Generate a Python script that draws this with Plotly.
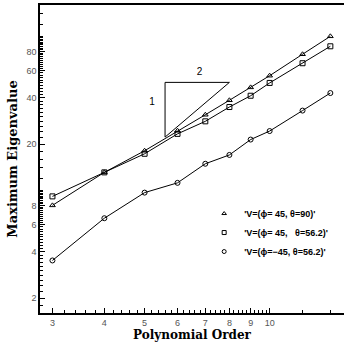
import numpy as np
import plotly.graph_objects as go

# Polynomial order and maximum eigenvalue for each viewing direction
order = [3, 4, 5, 6, 7, 8, 9, 10, 12, 14]
eig_45_90 = [8.0, 13.1, 18.1, 24.4, 31.0, 38.5, 46.7, 55.6, 76.6, 100.2]
eig_45_562 = [9.15, 13.1, 17.3, 23.3, 28.1, 34.8, 41.2, 49.9, 67.0, 86.3]
eig_m45_562 = [3.51, 6.6, 9.68, 11.2, 14.9, 17.0, 21.4, 24.3, 33.0, 42.9]

NB = "\u00a0"
names = ["'V=(\u03d5=" + NB + "45," + NB + "\u03b8=90)'",
         "'V=(\u03d5=" + NB + "45," + NB * 3 + "\u03b8=56.2)'",
         "'V=(\u03d5=\u221245," + NB + "\u03b8=56.2)'"]
symbols = ["triangle-up-open", "square-open", "circle-open"]

# slope guide triangle (rise 1 over run 2)
tri_x = [5.6, 5.6, 8.0, 5.6]
tri_y = [22.2, 50.3, 50.3, 22.2]
tri_label_x = [5.21, 6.78]
tri_label_y = [37.4, 58.0]
tri_labels = ["1", "2"]

x_ticks = [3, 4, 5, 6, 7, 8, 9, 10]
y_ticks = [2, 4, 6, 8, 20, 40, 60, 80]

x_minor = list(np.round(np.arange(2.8, 10.0, 0.2), 1)) + [12, 14]
y_minor = (list(np.round(np.arange(1.6, 10.01, 0.2), 1))
           + list(range(12, 101, 2)) + [120, 140])

fig = go.Figure()
for ys, nm, sym in zip([eig_45_90, eig_45_562, eig_m45_562], names, symbols):
    fig.add_trace(go.Scatter(
        x=order, y=ys, name=nm, mode="lines+markers",
        line=dict(color="black", width=1),
        marker=dict(symbol=sym, size=5, color="black",
                    line=dict(width=1, color="black")),
        showlegend=False,
    ))
    # marker-only key entry
    fig.add_trace(go.Scatter(
        x=[None], y=[None], name=nm, mode="markers",
        marker=dict(symbol=sym, size=4, color="black",
                    line=dict(width=1, color="black")),
    ))

fig.add_trace(go.Scatter(x=tri_x, y=tri_y, mode="lines",
                         line=dict(color="black", width=1),
                         showlegend=False, hoverinfo="skip"))
fig.add_trace(go.Scatter(x=tri_label_x, y=tri_label_y, mode="text",
                         text=tri_labels,
                         textfont=dict(family="Liberation Sans", size=10, color="black"),
                         showlegend=False, hoverinfo="skip"))

axis_common = dict(
    type="log", showgrid=False, zeroline=False,
    showline=True, linecolor="black", linewidth=1.5,
    ticks="inside", ticklen=5, tickcolor="black", tickwidth=1,
    tickfont=dict(family="Liberation Sans", size=9, color="#555"),
)

fig.update_xaxes(
    **axis_common,
    range=[np.log10(2.8), np.log10(15.1)],
    tickvals=x_ticks, ticktext=[str(v) for v in x_ticks],
    mirror=True,
    minor=dict(tickvals=x_minor, ticks="inside", ticklen=3,
               tickcolor="black", tickwidth=1),
    title=dict(text="<b>Polynomial Order</b>",
               font=dict(family="DejaVu Serif", size=12, color="black"),
               standoff=4),
)
fig.update_yaxes(
    **axis_common,
    range=[np.log10(1.6), np.log10(160)],
    tickvals=y_ticks, ticktext=[str(v) for v in y_ticks],
    minor=dict(tickvals=y_minor, ticks="inside", ticklen=3,
               tickcolor="black", tickwidth=1),
    title=dict(text="<b>Maximum Eigenvalue</b>",
               font=dict(family="DejaVu Serif", size=13, color="black"),
               standoff=6),
)

fig.update_layout(
    width=344, height=343,
    margin=dict(l=40, r=0, t=5, b=30),
    paper_bgcolor="white", plot_bgcolor="white",
    showlegend=True,
    legend=dict(x=0.54, y=0.37, xanchor="left", yanchor="top",
                bgcolor="rgba(0,0,0,0)",
                font=dict(family="Liberation Sans", size=9, color="black",
                          weight="bold"),
                itemwidth=30, tracegroupgap=0),
)

fig.write_html("out.html")
